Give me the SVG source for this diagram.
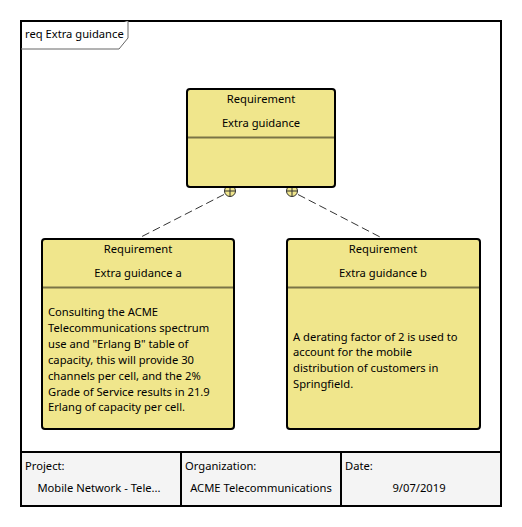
<svg xmlns="http://www.w3.org/2000/svg" width="522" height="527" viewBox="0 0 522 527">
<style>
text{font-family:"Noto Sans","Liberation Sans",sans-serif;font-size:11.2px;fill:#000}
.c{text-anchor:middle}
.box{fill:#F0E68C;stroke:#000;stroke-width:2}
.div{stroke:#7A7446;stroke-width:2}
.dash{stroke:#333;stroke-width:1;stroke-dasharray:8,4;fill:none}
.cell{fill:#F4F4F4;stroke:#000;stroke-width:2}
</style>
<rect x="0" y="0" width="522" height="527" fill="#fff"/>
<g id="frame">
<rect x="21" y="21" width="480" height="485" fill="#fff" stroke="#000" stroke-width="2"/>
<path d="M21,49 L119,49 L128,38 L128,21" fill="#fff" stroke="#666" stroke-width="1"/>
<text x="25" y="38">req Extra guidance</text>
</g>
<g id="connectors">
<line class="dash" x1="224" y1="194.5" x2="139" y2="238"/>
<line class="dash" x1="298" y1="194.5" x2="382" y2="238"/>
<g fill="#F0E68C" stroke="#333" stroke-width="1">
<circle cx="230" cy="191" r="5.5"/>
<path d="M224.5,191 H235.5 M230,185.5 V196.5"/>
<circle cx="292" cy="191" r="5.5"/>
<path d="M286.5,191 H297.5 M292,185.5 V196.5"/>
</g>
</g>
<g id="node-top">
<rect class="box" x="187" y="89" width="148" height="98" rx="3"/>
<line class="div" x1="188" y1="137.5" x2="334" y2="137.5"/>
<text class="c" x="261" y="103">Requirement</text>
<text class="c" x="261" y="127">Extra guidance</text>
</g>
<g id="node-a">
<rect class="box" x="42" y="239" width="192" height="190" rx="3"/>
<line class="div" x1="43" y1="287.5" x2="233" y2="287.5"/>
<text class="c" x="138" y="252.5">Requirement</text>
<text class="c" x="138" y="277">Extra guidance a</text>
<text x="48" y="316">Consulting the ACME</text>
<text x="48" y="332">Telecommunications spectrum</text>
<text x="48" y="348">use and "Erlang B" table of</text>
<text x="48" y="363.5">capacity, this will provide 30</text>
<text x="48" y="379.5">channels per cell, and the 2%</text>
<text x="48" y="395.5">Grade of Service results in 21.9</text>
<text x="48" y="411">Erlang of capacity per cell.</text>
</g>
<g id="node-b">
<rect class="box" x="287" y="239" width="193" height="190" rx="3"/>
<line class="div" x1="288" y1="287.5" x2="479" y2="287.5"/>
<text class="c" x="383" y="252.5">Requirement</text>
<text class="c" x="383" y="277">Extra guidance b</text>
<text x="293" y="340.5">A derating factor of 2 is used to</text>
<text x="293" y="356">account for the mobile</text>
<text x="293" y="372">distribution of customers in</text>
<text x="293" y="387.5">Springfield.</text>
</g>
<g id="footer">
<rect class="cell" x="21" y="452" width="160" height="54"/>
<rect class="cell" x="181" y="452" width="160" height="54"/>
<rect class="cell" x="341" y="452" width="160" height="54"/>
<text x="25" y="470">Project:</text>
<text x="185" y="470">Organization:</text>
<text x="345" y="470">Date:</text>
<text class="c" x="99" y="492">Mobile Network - Tele...</text>
<text class="c" x="261" y="492">ACME Telecommunications</text>
<text class="c" x="419" y="492">9/07/2019</text>
</g>
</svg>
